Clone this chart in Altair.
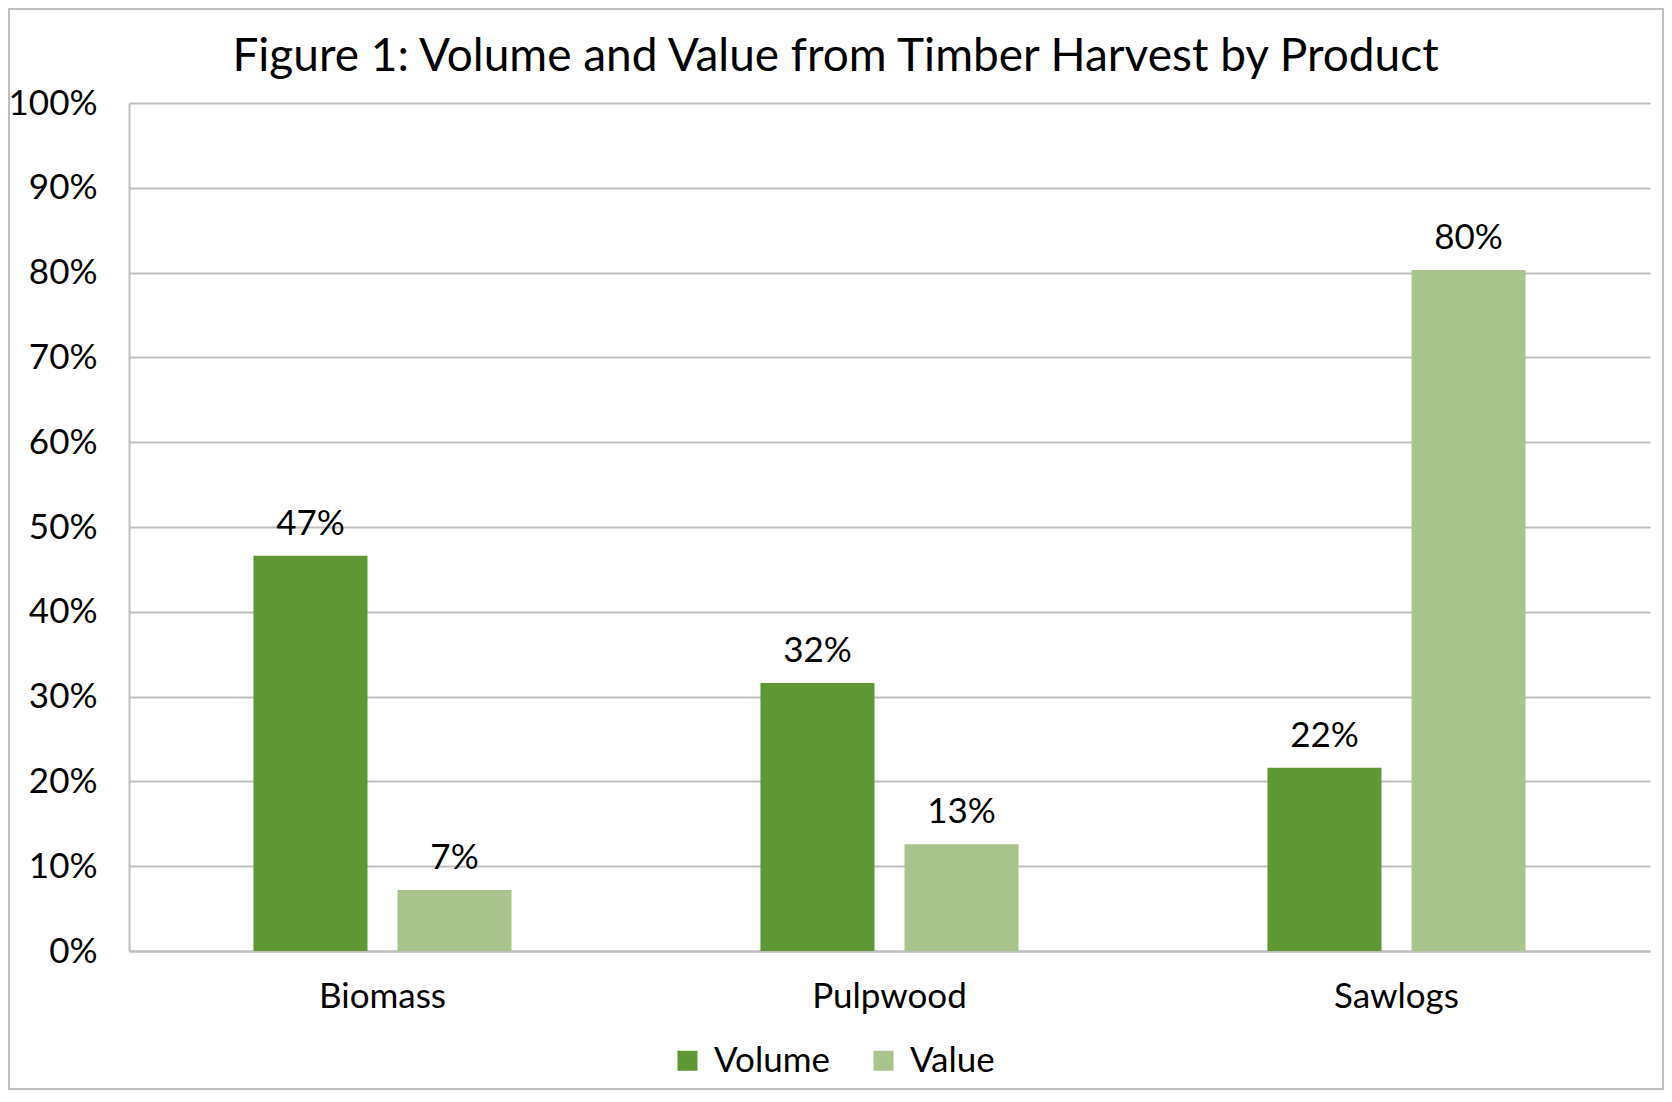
import altair as alt
import pandas as pd

products = ["Biomass", "Pulpwood", "Sawlogs"]
series = ["Volume", "Value"]
volume = [46.6, 31.6, 21.6]
value = [7.2, 12.6, 80.3]
y_ticks = [0, 10, 20, 30, 40, 50, 60, 70, 80, 90, 100]
colors = ["#5F9735", "#A8C38C"]

rows = []
for p, vo, va in zip(products, volume, value):
    rows.append({"product": p, "series": "Volume", "pct": vo, "label": f"{vo:.0f}%"})
    rows.append({"product": p, "series": "Value", "pct": va, "label": f"{va:.0f}%"})
df = pd.DataFrame(rows)

FONT = "Lato"
GRID = "#BFBFBF"

x_enc = alt.X("product:N", sort=products, title=None,
              scale=alt.Scale(paddingInner=0.491, paddingOuter=0.2455),
              axis=alt.Axis(labelFont=FONT, labelFontSize=35, labelColor="black",
                            labelAngle=0, labelBaseline="alphabetic", labelPadding=56,
                            ticks=False, tickSize=0, domainColor=GRID, domainWidth=2))
xoff = alt.XOffset("series:N", sort=series,
                   scale=alt.Scale(paddingInner=0.2083, paddingOuter=0))
y_enc = alt.Y("pct:Q", title=None,
              scale=alt.Scale(domain=[0, 100], nice=False),
              axis=alt.Axis(values=y_ticks, labelExpr="datum.value + '%'",
                            labelFont=FONT, labelFontSize=35, labelColor="black",
                            labelPadding=32, ticks=False, tickSize=0,
                            domainColor=GRID, domainWidth=2,
                            grid=True, gridColor=GRID, gridWidth=2))

bars = alt.Chart(df).mark_bar().encode(
    x=x_enc, xOffset=xoff, y=y_enc,
    color=alt.Color("series:N", sort=series,
                    scale=alt.Scale(domain=series, range=colors),
                    legend=alt.Legend(title=None, orient="none", direction="horizontal",
                                      legendX=541, legendY=940, padding=0,
                                      symbolType="square", symbolSize=400,
                                      symbolStrokeWidth=0, labelFont=FONT,
                                      labelFontSize=35, labelColor="black",
                                      labelOffset=9, columnPadding=36)),
)

labels = alt.Chart(df).mark_text(font=FONT, fontSize=35, color="black",
                                 baseline="alphabetic", dy=-21).encode(
    x=alt.X("product:N", sort=products),
    xOffset=xoff,
    y="pct:Q",
    text="label:N",
)

border = alt.Chart(alt.Data(values=[{}])).mark_rect(
    filled=False, stroke=GRID, strokeWidth=2
).encode(
    x=alt.value(-120), x2=alt.value(1534), y=alt.value(-94), y2=alt.value(986)
)

chart = alt.layer(bars, labels, border).properties(
    width=1521, height=848,
    title=alt.TitleParams("Figure 1: Volume and Value from Timber Harvest by Product",
                          font=FONT, fontSize=46, fontWeight="normal", color="black",
                          anchor="middle", frame="group", dx=-54,
                          baseline="alphabetic", offset=-109),
    autosize=alt.AutoSizeParams(type="none"),
    padding={"left": 121, "top": 95, "right": 14, "bottom": 139},
    background="white",
).configure_view(stroke=None)

chart.save("out.html", embed_options={"renderer": "svg", "actions": False})
